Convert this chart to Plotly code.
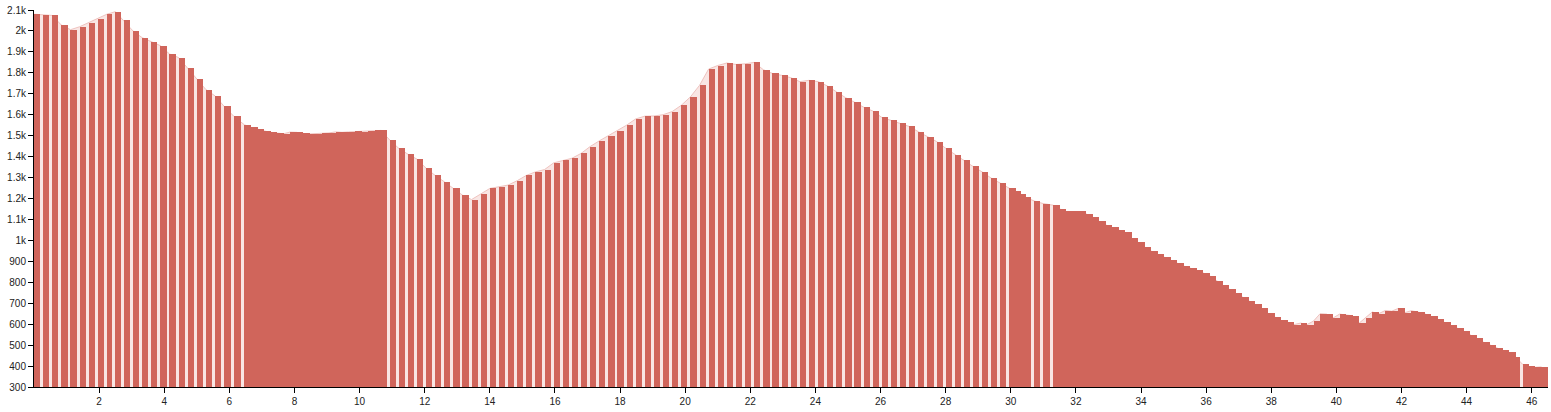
import numpy as np
import plotly.graph_objects as go

# Sample distances along the route (km) and elevation (m)
distance_km = [
    0.00, 0.28, 0.56, 0.84, 1.12, 1.40, 1.68, 1.96, 2.24, 2.50, 2.76, 3.04, 3.32, 3.60, 3.88, 4.16,
    4.44, 4.72, 5.00, 5.28, 5.56, 5.84, 6.14, 6.46,
    6.66, 6.86, 7.06, 7.26, 7.46, 7.66, 7.86, 8.06, 8.26, 8.46, 8.66, 8.86, 9.06, 9.26, 9.46, 9.66,
    9.86, 10.06, 10.26, 10.46, 10.66,
    10.92, 11.20, 11.48, 11.76, 12.04, 12.32, 12.60, 12.88, 13.16, 13.44, 13.72, 14.00, 14.28, 14.56,
    14.84, 15.12, 15.40, 15.68, 15.96, 16.24, 16.52, 16.80, 17.08, 17.36, 17.64, 17.92, 18.20, 18.48,
    18.76, 19.04, 19.32, 19.60, 19.88, 20.16, 20.44, 20.72, 21.00, 21.28, 21.56, 21.84, 22.12, 22.40,
    22.68, 22.96, 23.24, 23.52, 23.80, 24.08, 24.36, 24.64, 24.92, 25.20, 25.48, 25.76, 26.04, 26.32,
    26.60, 26.88, 27.16, 27.44, 27.72, 28.00, 28.28, 28.56, 28.84, 29.12, 29.40, 29.68, 29.95,
    30.15, 30.30, 30.46, 30.72, 30.99, 31.30, 31.50, 31.70, 31.90, 32.10, 32.30, 32.50, 32.70, 32.90,
    33.10, 33.30, 33.50, 33.70, 33.90, 34.10, 34.30, 34.50, 34.70, 34.90, 35.10, 35.30, 35.50, 35.70,
    35.90, 36.10, 36.30, 36.50, 36.70, 36.90, 37.10, 37.30, 37.50, 37.70, 37.90, 38.10, 38.30, 38.50,
    38.70, 38.90, 39.10, 39.30, 39.50, 39.70, 39.90, 40.10, 40.30, 40.50, 40.70, 40.90, 41.10, 41.30,
    41.50, 41.70, 41.90, 42.10, 42.30, 42.50, 42.70, 42.90, 43.10, 43.30, 43.50, 43.70, 43.90, 44.10,
    44.30, 44.50, 44.70, 44.90, 45.10, 45.30, 45.50, 45.72, 45.90, 46.10, 46.30,
]
elevation_m = [
    2080, 2078, 2074, 2028, 2006, 2020, 2040, 2057, 2080, 2092, 2050, 2000, 1968, 1948, 1930, 1890,
    1873, 1822, 1770, 1720, 1690, 1640, 1592, 1552,
    1540, 1530, 1523, 1516, 1511, 1509, 1517, 1516, 1511, 1508, 1510, 1511, 1513, 1518, 1516, 1518,
    1520, 1519, 1521, 1526, 1525,
    1480, 1440, 1412, 1388, 1345, 1310, 1280, 1248, 1216, 1195, 1222, 1248, 1256, 1264,
    1285, 1310, 1327, 1338, 1370, 1382, 1392, 1415, 1448, 1475, 1500, 1522, 1550, 1580,
    1593, 1594, 1600, 1615, 1645, 1685, 1740, 1818, 1835, 1847, 1840, 1843, 1850, 1815,
    1797, 1788, 1777, 1758, 1764, 1758, 1738, 1710, 1682, 1660, 1636, 1618, 1587, 1573,
    1560, 1544, 1519, 1495, 1472, 1440, 1410, 1382, 1353, 1327, 1297, 1273, 1250,
    1235, 1222, 1205, 1188, 1176, 1168, 1150, 1138, 1139, 1138, 1128, 1112, 1092, 1075,
    1062, 1050, 1038, 1010, 990, 968, 950, 935, 920, 906, 890, 878, 868, 858,
    845, 832, 808, 788, 768, 750, 732, 712, 695, 675, 652, 635, 618, 608,
    598, 605, 598, 615, 650, 648, 630, 648, 645, 640, 605, 630, 658, 650,
    665, 662, 675, 655, 664, 658, 650, 638, 625, 610, 596, 582, 568, 550,
    532, 515, 502, 488, 475, 466, 445, 408, 398, 394, 396,
]

y_tick_values = [300, 400, 500, 600, 700, 800, 900, 1000, 1100, 1200, 1300, 1400, 1500,
                 1600, 1700, 1800, 1900, 2000, 2100]
y_tick_labels = ["300", "400", "500", "600", "700", "800", "900", "1k", "1.1k", "1.2k", "1.3k",
                 "1.4k", "1.5k", "1.6k", "1.7k", "1.8k", "1.9k", "2k", "2.1k"]
x_tick_values = list(range(2, 47, 2))

d = np.array(distance_km, dtype=float)
e = np.array(elevation_m, dtype=float)
spacing = np.diff(d, append=d[-1] + 0.2)
widths = np.where(spacing > 0.21, spacing - 0.09, spacing + 0.01)

DARK = "#d0655b"
LIGHT = "#f9e6e4"

fig = go.Figure()
fig.add_trace(go.Scatter(
    x=d, y=e, mode="lines", fill="tozeroy",
    line=dict(color="#efc3bf", width=1), fillcolor=LIGHT,
    hoverinfo="skip", showlegend=False,
))
fig.add_trace(go.Bar(
    x=d, y=e, width=widths, offset=0, yaxis="y2",
    marker=dict(color=DARK, line=dict(width=0)),
    showlegend=False,
))

axis_font = dict(family="Liberation Sans, Arial, sans-serif", size=10, color="#222")
fig.update_layout(
    width=1551, height=412,
    margin=dict(l=34, r=3, t=10, b=25),
    paper_bgcolor="white", plot_bgcolor="white",
    bargap=0,
    xaxis=dict(range=[0, 46.5], tickvals=x_tick_values, ticktext=[str(v) for v in x_tick_values],
               ticks="outside", ticklen=5, tickcolor="#000", showline=True, linecolor="#000",
               linewidth=1, showgrid=False, zeroline=False, tickfont=axis_font,
               automargin=False),
    yaxis=dict(range=[300, 2100], tickvals=y_tick_values, ticktext=y_tick_labels,
               ticks="outside", ticklen=5, tickcolor="#000", showline=True, linecolor="#000",
               linewidth=1, showgrid=False, zeroline=False, tickfont=axis_font,
               automargin=False),
    yaxis2=dict(range=[300, 2100], overlaying="y", visible=False, showgrid=False,
                zeroline=False),
)

fig.write_html("out.html",
               config={"displayModeBar": False},
               post_script="document.body.style.margin='0';document.body.style.padding='0';")
